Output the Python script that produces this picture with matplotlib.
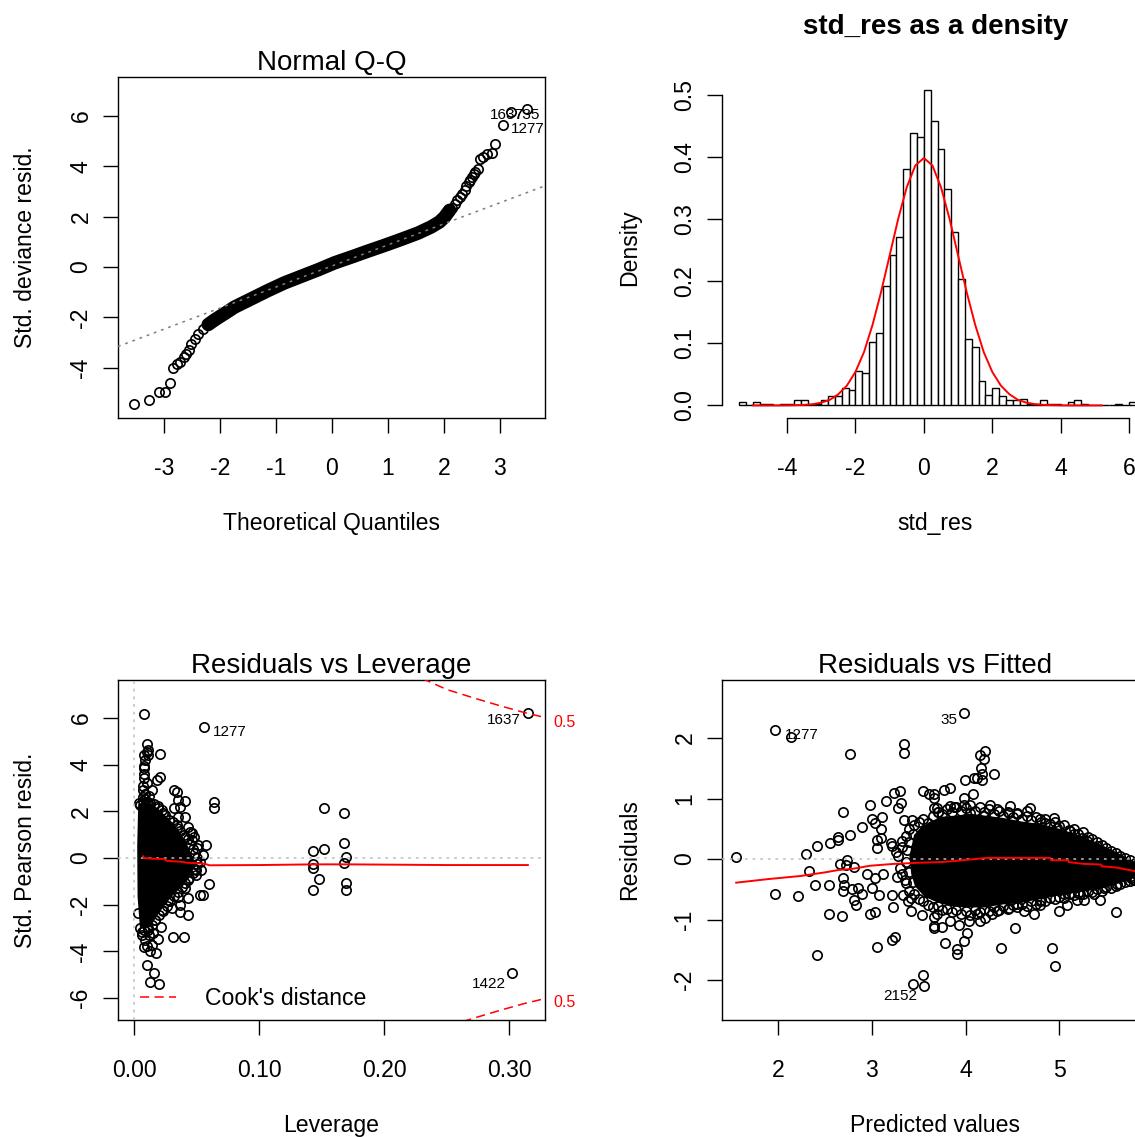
import numpy as np
import matplotlib
matplotlib.use("Agg")
import matplotlib.pyplot as plt
from matplotlib.lines import Line2D

plt.rcParams['font.family'] = ['Liberation Sans', 'DejaVu Sans']
plt.rcParams['axes.unicode_minus'] = False

W, H = 1135, 1137
PX = 0.72  # points per pixel at dpi 100

# ---------------- data ----------------
# Normal Q-Q (theoretical quantile, std. deviance residual)
qq_x = [-3.54, -3.26, -3.09, -2.99, -2.90, -2.83, -2.77, -2.71, -2.65, -2.60,
        -2.55, -2.51, -2.44, -2.39, -2.30, -2.21, -2.09, -1.92, -1.74, -1.44,
        -1.14, -0.85, -0.55, -0.25, 0.05, 0.35, 0.64, 0.94, 1.24, 1.54,
        1.77, 1.92, 2.01, 2.10, 2.15, 2.19, 2.24, 2.28, 2.33, 2.37,
        2.40, 2.44, 2.47, 2.50, 2.53, 2.56, 2.60, 2.64, 2.70, 2.76,
        2.85, 2.92, 3.05, 3.19, 3.49]
qq_y = [-5.42, -5.29, -4.96, -4.96, -4.59, -4.01, -3.86, -3.77, -3.57, -3.44,
        -3.31, -3.04, -2.84, -2.67, -2.45, -2.28, -2.09, -1.85, -1.59, -1.26,
        -0.93, -0.63, -0.37, -0.11, 0.17, 0.40, 0.63, 0.86, 1.10, 1.35,
        1.59, 1.79, 1.98, 2.25, 2.35, 2.49, 2.64, 2.78, 2.91, 3.04,
        3.20, 3.37, 3.47, 3.57, 3.68, 3.77, 3.90, 4.30, 4.36, 4.50,
        4.52, 4.87, 5.65, 6.15, 6.26]
qq_line_x = [-3.82, 3.80]
qq_line_y = [-3.15, 3.22]
qq_ids = [("1637", 3.49, 6.26, -4, -5.3, 'right'),
          ("735", 3.19, 6.15, 3.3, -2.6, 'left'),
          ("1277", 3.05, 5.65, 7.7, -3.9, 'left')]

# histogram of std_res (density per 0.2 wide bin, first bin starts at -5.4)
hist_start = -5.4
hist_width = 0.2
hist_density = [0.005, 0.0, 0.005, 0.0027, 0.0027, 0.0, 0.0027, 0.0027, 0.008, 0.008,
                0.0, 0.0027, 0.008, 0.0145, 0.0145, 0.028, 0.025, 0.055, 0.052, 0.103,
                0.116, 0.192, 0.243, 0.271, 0.381, 0.439, 0.433, 0.508, 0.459, 0.413,
                0.349, 0.280, 0.204, 0.107, 0.095, 0.040, 0.017, 0.028, 0.0145, 0.008,
                0.008, 0.011, 0.0027, 0.0027, 0.008, 0.0027, 0.0027, 0.0, 0.005, 0.008,
                0.0027, 0.0, 0.0, 0.0, 0.0, 0.0027, 0.0, 0.005]
curve_x = [-5.0, -4.75, -4.5, -4.25, -4.0, -3.75, -3.5, -3.25, -3.0, -2.75,
           -2.5, -2.25, -2.0, -1.75, -1.5, -1.25, -1.0, -0.75, -0.5, -0.25,
           0.0, 0.25, 0.5, 0.75, 1.0, 1.25, 1.5, 1.75, 2.0, 2.25,
           2.5, 2.75, 3.0, 3.25, 3.5, 3.75, 4.0, 4.25, 4.5, 4.75, 5.0, 5.2]
curve_y = [0.0, 0.0, 0.0, 0.0, 0.0001, 0.0004, 0.0009, 0.002, 0.0044, 0.009,
           0.018, 0.032, 0.054, 0.086, 0.130, 0.183, 0.242, 0.301, 0.352, 0.387,
           0.399, 0.387, 0.352, 0.301, 0.242, 0.183, 0.130, 0.086, 0.054, 0.032,
           0.018, 0.009, 0.0044, 0.002, 0.0009, 0.0004, 0.0001, 0.0, 0.0, 0.0, 0.0, 0.0]

# Residuals vs Leverage: separate points
lev_pts = [0.008, 0.0557, 0.0099, 0.0101, 0.0077, 0.0112, 0.0208, 0.008, 0.008, 0.008,
           0.0207, 0.0179, 0.007, 0.0139, 0.032, 0.0339, 0.0352, 0.0405, 0.032, 0.0365,
           0.0405, 0.0432, 0.0464, 0.0475, 0.0512, 0.057, 0.0553, 0.064, 0.064, 0.0491,
           0.0597, 0.0525, 0.0552, 0.0432, 0.0365, 0.0427, 0.0365, 0.0299, 0.0213, 0.0312,
           0.0397, 0.0187, 0.008, 0.0139, 0.0171, 0.0099, 0.016, 0.0125, 0.0197,
           0.3147, 0.3024, 0.1515, 0.1675, 0.1675, 0.1515, 0.1429, 0.169, 0.1675, 0.1429,
           0.1429, 0.1475, 0.169, 0.1429, 0.169,
           0.007, 0.009, 0.007, 0.010, 0.008, 0.009, 0.011, 0.009, 0.012,
           0.006, 0.009, 0.012, 0.015, 0.010, 0.013]
pear_pts = [6.17, 5.60, 4.88, 4.55, 4.41, 4.41, 4.48, 3.84, 3.62, 3.41,
            3.48, 3.34, 2.91, 2.91, 2.91, 2.84, 2.48, 2.44, 2.13, 2.20,
            1.77, 1.34, 1.06, 0.92, 0.56, 0.56, 0.13, 2.41, 2.16, -0.51,
            -1.11, -1.58, -1.58, -1.73, -2.01, -2.44, -2.30, -2.13, -2.94, -3.40,
            -3.40, -3.48, -3.80, -3.73, -4.05, -4.58, -4.94, -5.30, -5.41,
            6.22, -4.91, 2.16, 1.91, 0.63, 0.39, 0.31, 0.03, -0.23, -0.26,
            -0.44, -0.91, -1.06, -1.37, -1.37,
            2.60, 2.75, 3.10, 3.20, 3.95, 4.20, 4.65, 2.55, 2.65,
            -3.30, -3.50, -3.30, -3.20, -3.75, -4.00]
# points on the edge of the dense mass
lev_edge = [0.004, 0.007, 0.010, 0.013, 0.016, 0.019, 0.022, 0.025, 0.028, 0.031,
            0.034, 0.037, 0.040, 0.043, 0.045, 0.047, 0.049, 0.050, 0.050, 0.049,
            0.047, 0.044, 0.041, 0.038, 0.035, 0.032, 0.029, 0.026, 0.023, 0.020,
            0.017, 0.014, 0.011, 0.008, 0.005,
            0.0045, 0.0112, 0.0192, 0.0232, 0.0285, 0.0352, 0.0339, 0.0405, 0.0445, 0.0459,
            0.0499, 0.0525, 0.0533, 0.0491, 0.0432, 0.0405, 0.0352, 0.0272, 0.0219, 0.0165,
            0.0112, 0.0059, 0.0032]
pear_edge = [2.35, 2.45, 2.42, 2.38, 2.30, 2.25, 2.05, 1.85, 1.65, 1.55,
             1.40, 1.15, 1.00, 0.80, 0.60, 0.40, 0.20, 0.00, -0.25, -0.45,
             -0.65, -0.85, -1.05, -1.25, -1.45, -1.62, -1.85, -2.05, -2.25, -2.45,
             -2.65, -2.85, -3.00, -3.10, -3.00,
             2.27, 2.34, 2.13, 1.91, 1.34, 1.77, 1.27, 0.91, 1.13, 0.77,
             0.41, -0.16, -0.51, -0.73, -0.94, -1.30, -1.66, -1.80, -2.23, -2.66,
             -3.08, -3.16, -2.36]
# outline of the solid black mass of overlapping points near zero leverage
lev_core = [0.0032, 0.0085, 0.0165, 0.0245, 0.0312, 0.0365, 0.0419, 0.0464, 0.0480, 0.0445,
            0.0379, 0.0312, 0.0245, 0.0187, 0.0139, 0.0085, 0.0045, 0.0027, 0.0024]
pear_core = [2.31, 2.41, 2.23, 1.84, 1.49, 1.13, 0.63, 0.06, -0.37, -0.83,
             -1.23, -1.58, -2.01, -2.44, -2.87, -3.05, -2.94, -1.66, 0.49]
lev_smooth = [0.0072, 0.0080, 0.0150, 0.0240, 0.0260, 0.0380, 0.0420, 0.0560, 0.0600, 0.1000,
              0.1450, 0.1700, 0.2500, 0.3147]
pear_smooth = [0.07, 0.00, -0.03, -0.04, -0.12, -0.16, -0.20, -0.24, -0.31, -0.30,
               -0.27, -0.27, -0.30, -0.30]
cook_lev = [0.2300, 0.2500, 0.2715, 0.2928, 0.3115, 0.3300]
cook_hi = [7.70, 7.22, 6.86, 6.52, 6.24, 6.00]
cook_lo = [-7.70, -7.22, -6.86, -6.52, -6.24, -6.00]
lev_ids = [("1277", 0.0557, 5.60, 9.3, -4.3, 'left'),
           ("1637", 0.3147, 6.22, -7, -7.2, 'right'),
           ("1422", 0.3024, -4.91, -7, -11.6, 'right')]

# Residuals vs Fitted: separate points
fit_pts = [1.549, 1.968, 2.135, 2.768, 3.341, 3.341, 1.968, 2.217, 2.299, 2.413,
           2.333, 2.397, 2.413, 2.544, 2.555, 2.64, 2.64, 2.697, 2.77, 2.66,
           2.73, 2.726, 2.815, 2.697, 2.704, 2.690, 2.786, 2.857, 2.815, 2.832,
           2.893, 2.544, 2.679, 2.893, 2.982, 3.006, 3.034, 3.104, 3.146, 3.235,
           3.30, 3.28, 3.31, 3.10, 3.05, 3.05, 3.10, 3.20, 3.21, 3.34,
           3.43, 2.95, 3.03, 3.12, 3.00, 3.08, 2.98, 3.03, 3.23, 3.21,
           3.33, 3.42, 3.39, 3.06, 3.22, 3.25, 3.54, 3.44, 3.56, 3.53,
           3.66, 3.66, 3.42, 3.55, 3.61, 3.66, 3.66, 3.70,
           3.978, 4.156, 4.209, 4.191, 4.163, 4.173, 4.12, 4.084, 3.995, 4.305,
           4.077, 4.173, 3.658, 3.764, 3.828, 3.978, 3.871, 3.978, 4.262, 4.333,
           4.476, 4.654, 4.689, 4.458, 4.938, 4.974, 5.152, 5.241, 5.401, 5.49,
           5.65, 5.757, 4.992, 5.081, 5.187, 5.265, 5.365, 5.436, 5.603, 4.529,
           4.376, 4.92, 4.949, 3.782, 3.907, 3.907, 3.978, 4.013, 3.658, 3.746,
           3.924, 4.031, 4.156, 4.209, 4.28, 4.458, 4.618, 4.725, 4.796,
           3.693, 3.835, 4.049, 4.191, 4.547, 4.796, 4.849, 5.116, 5.294, 5.507,
           5.685, 3.693, 3.835, 4.12, 4.333, 4.547, 4.796, 5.045, 5.223, 5.472,
           5.614, 5.757, 5.79, 5.90, 5.93,
           3.28, 3.30, 3.32, 3.35, 3.38, 3.36, 3.40, 3.40, 3.44, 3.44, 3.26, 3.27]
res_pts = [0.04, 2.14, 2.02, 1.73, 1.91, 1.75, -0.58, -0.61, 0.09, 0.21,
           -0.20, -0.43, -1.59, -0.43, 0.27, 0.32, 0.36, 0.78, 0.39, -0.08,
           -0.01, -0.09, -0.13, -0.31, -0.43, -0.52, -0.50, -0.47, -0.68, -0.76,
           -0.58, -0.91, -0.94, 0.53, 0.89, 0.67, 0.60, 0.70, 0.96, 1.10,
           1.12, 0.84, 0.92, 0.49, 0.32, 0.19, 0.35, 0.27, 0.21, 0.64,
           0.64, -0.25, -0.31, -0.24, -0.47, -0.59, -0.91, -0.88, -0.79, -0.59,
           -0.59, -0.64, -0.69, -1.45, -1.33, -1.29, -1.91, -2.07, -2.09, -0.93,
           -0.96, -1.10, -0.86, 1.13, 1.07, 1.01, 0.85, 0.77,
           2.408, 1.719, 1.785, 1.647, 1.499, 1.399, 1.344, 1.344, 1.30, 1.399,
           1.069, 1.306, 1.069, 1.135, 1.168, 1.014, 0.86, 0.893, 0.893, 0.832,
           0.876, 0.793, 0.849, 0.766, 0.672, 0.518, 0.419, 0.353, 0.215, 0.105,
           -0.033, -0.281, -0.86, -0.76, -0.684, -0.678, -0.584, -0.684, -0.87, -1.146,
           -1.466, -1.466, -1.769, -1.383, -1.493, -1.565, -1.356, -1.229, -1.135, -1.124,
           -1.091, -1.025, -1.025, -0.981, -0.915, -0.804, -0.86, -0.915, -0.76,
           0.848, 0.876, 0.766, 0.711, 0.738, 0.656, 0.60, 0.463, 0.297, 0.077,
           -0.143, -0.915, -1.025, -0.915, -0.86, -0.75, -0.694, -0.584, -0.584, -0.474,
           -0.419, -0.309, -0.34, -0.15, -0.25,
           0.05, -0.15, 0.30, -0.35, 0.15, -0.05, 0.28, -0.22, 0.42, -0.38, 0.12, -0.30]
# points on the upper and lower edge of the dense mass
fit_edge = [3.32, 3.36, 3.40, 3.45, 3.50, 3.55, 3.60, 3.65, 3.70, 3.75,
            3.80, 3.85, 3.90, 3.95, 4.00, 4.05, 4.10, 4.15, 4.20, 4.25,
            4.30, 4.35, 4.40, 4.45, 4.50, 4.55, 4.60, 4.65, 4.70, 4.75,
            4.80, 4.85, 4.90, 4.95, 5.00, 5.05, 5.10, 5.15, 5.20, 5.25,
            5.30, 5.35, 5.40, 5.45, 5.50, 5.55, 5.60, 5.65, 5.70, 5.75,
            5.80, 5.85, 5.90,
            3.32, 3.36, 3.40, 3.45, 3.50, 3.55, 3.60, 3.65, 3.70, 3.75,
            3.80, 3.85, 3.90, 3.95, 4.00, 4.05, 4.10, 4.15, 4.20, 4.25,
            4.30, 4.35, 4.40, 4.45, 4.50, 4.55, 4.60, 4.65, 4.70, 4.75,
            4.80, 4.85, 4.90, 4.95, 5.00, 5.05, 5.10, 5.15, 5.20, 5.25,
            5.30, 5.35, 5.40, 5.45, 5.50, 5.55, 5.60, 5.65, 5.70, 5.75,
            5.80, 5.85, 5.90]
res_edge = [0.20, 0.38, 0.50, 0.56, 0.62, 0.66, 0.60, 0.72, 0.78, 0.74,
            0.82, 0.78, 0.86, 0.80, 0.84, 0.90, 0.80, 0.86, 0.78, 0.82,
            0.74, 0.80, 0.72, 0.78, 0.70, 0.76, 0.66, 0.72, 0.64, 0.70,
            0.62, 0.66, 0.58, 0.62, 0.54, 0.56, 0.48, 0.50, 0.42, 0.44,
            0.36, 0.34, 0.28, 0.24, 0.18, 0.14, 0.10, 0.05, 0.02, -0.02,
            -0.06, -0.10, -0.14,
            -0.25, -0.40, -0.52, -0.58, -0.66, -0.70, -0.76, -0.80, -0.78, -0.85,
            -0.82, -0.88, -0.84, -0.90, -0.86, -0.92, -0.84, -0.88, -0.82, -0.86,
            -0.80, -0.84, -0.78, -0.82, -0.76, -0.80, -0.74, -0.78, -0.70, -0.74,
            -0.68, -0.70, -0.64, -0.66, -0.62, -0.64, -0.58, -0.60, -0.56, -0.58,
            -0.52, -0.54, -0.50, -0.52, -0.46, -0.48, -0.44, -0.42, -0.38, -0.36,
            -0.34, -0.30, -0.28]
fit_core = [3.40, 3.45, 3.52, 3.62, 3.75, 3.90, 4.05, 4.20, 4.40, 4.60,
            4.80, 5.00, 5.20, 5.40, 5.60, 5.75, 5.90,
            5.90, 5.75, 5.60, 5.40, 5.20, 5.00, 4.80, 4.60, 4.40, 4.20,
            4.00, 3.85, 3.70, 3.56, 3.46, 3.42]
res_core = [0.05, 0.40, 0.52, 0.62, 0.70, 0.72, 0.75, 0.72, 0.68, 0.62,
            0.58, 0.50, 0.40, 0.27, 0.12, 0.00, -0.12,
            -0.28, -0.33, -0.42, -0.50, -0.55, -0.60, -0.66, -0.72, -0.75, -0.80,
            -0.80, -0.78, -0.72, -0.62, -0.45, -0.25]
fit_smooth = [1.554, 1.90, 2.238, 2.50, 2.647, 2.80, 2.982, 3.231, 3.515, 3.728,
              3.90, 4.227, 4.90, 4.91, 5.09, 5.10, 5.26, 5.44, 5.45, 5.61, 5.77, 5.85]
res_smooth = [-0.39, -0.33, -0.28, -0.22, -0.18, -0.16, -0.11, -0.08, -0.06, -0.05,
              -0.03, 0.02, 0.02, -0.02, -0.02, -0.05, -0.08, -0.09, -0.12, -0.14, -0.19, -0.21]
fit_ids = [("1277", 1.968, 2.14, 10, -5.1, 'left'),
           ("35", 3.978, 2.408, -6.3, -7, 'right'),
           ("2152", 3.56, -2.09, -7, -10.6, 'right')]

# ---------------- styling ----------------
LBL = 16.6
TTL = 20
IDS = 11
MS = 9.3 * PX
MEW = 1.7 * PX
DOT = (0, (1.8, 3.2))


def rect(left, top, w, h):
    return [left / W, 1 - (top + h) / H, w / W, h / H]


def dress(ax, xticks, xlabels, yticks, ylabels, xlab, ylab, title, bold=False,
          title_base=70, h=341):
    ax.set_xticks(xticks, xlabels)
    ax.set_yticks(yticks, ylabels)
    ax.tick_params(direction='out', length=15 * PX, width=1.0, labelsize=LBL)
    ax.tick_params(axis='x', pad=24 * PX)
    ax.tick_params(axis='y', pad=10.6 * PX)
    plt.setp(ax.get_yticklabels(), rotation=90, va='center')
    for s in ax.spines.values():
        s.set_linewidth(1.0)
    ax.set_xlabel(xlab, fontsize=LBL, va='baseline')
    ax.xaxis.set_label_coords(0.5, -112 / h)
    ax.set_ylabel(ylab, fontsize=LBL, va='baseline')
    ax.yaxis.set_label_coords(-86 / 427, 0.5)
    ax.set_title(title, fontsize=TTL, fontweight='bold' if bold else 'normal',
                 y=1 + (77 - title_base) / h if not bold else (418 - title_base) / h,
                 pad=0, va='baseline')


def rings(ax, x, y):
    ax.plot(x, y, 'o', mfc='none', mec='black', ms=MS, mew=MEW, zorder=3)


def ids(ax, items):
    for txt, x, y, dx, dy, ha in items:
        ax.annotate(txt, (x, y), xytext=(dx * PX, dy * PX), textcoords='offset points',
                    ha=ha, va='center', fontsize=IDS, annotation_clip=False)


fig = plt.figure(figsize=(W / 100, H / 100), dpi=100)

# ---- Normal Q-Q ----
ax1 = fig.add_axes(rect(118, 77, 427, 341))
qx = np.array(qq_x)
qy = np.array(qq_y)
band = (qx >= -2.21) & (qx <= 2.10)
ax1.plot(qx[band], qy[band], color='black', lw=13.5 * PX, solid_capstyle='round',
         solid_joinstyle='round', zorder=2)
rings(ax1, qx, qy)
ax1.plot(qq_line_x, qq_line_y, color='#7f7f7f', lw=1.1, ls=DOT, zorder=4)
ids(ax1, qq_ids)
ax1.set_xlim(-3.821, 3.804)
ax1.set_ylim(-5.99, 7.54)
dress(ax1, [-3, -2, -1, 0, 1, 2, 3], ['-3', '-2', '-1', '0', '1', '2', '3'],
      [-4, -2, 0, 2, 4, 6], ['-4', '-2', '0', '2', '4', '6'],
      'Theoretical Quantiles', 'Std. deviance resid.', 'Normal Q-Q')

# ---- histogram ----
ax2 = fig.add_axes(rect(722, 77, 427, 341))
lefts = [hist_start + hist_width * i for i in range(len(hist_density))]
ax2.bar(lefts, hist_density, width=hist_width, align='edge', facecolor='white',
        edgecolor='black', linewidth=1.0)
ax2.plot(curve_x, curve_y, color='red', lw=1.4)
ax2.set_xlim(-5.90, 6.58)
ax2.set_ylim(-0.0203, 0.5297)
dress(ax2, [-4, -2, 0, 2, 4, 6], ['-4', '-2', '0', '2', '4', '6'],
      [0, 0.1, 0.2, 0.3, 0.4, 0.5], ['0.0', '0.1', '0.2', '0.3', '0.4', '0.5'],
      'std_res', 'Density', 'std_res as a density', bold=True, title_base=34)
ax2.spines['top'].set_visible(False)
ax2.spines['right'].set_visible(False)
ax2.spines['left'].set_bounds(0, 0.5)
ax2.spines['bottom'].set_bounds(-4, 6)

# ---- Residuals vs Leverage ----
ax3 = fig.add_axes(rect(118, 680, 427, 340))
ax3.fill(lev_core, pear_core, color='black', lw=0, zorder=2)
rings(ax3, lev_pts, pear_pts)
rings(ax3, lev_edge, pear_edge)
ax3.axhline(0, color='#bebebe', lw=1.1, ls=DOT, zorder=4)
ax3.axvline(0, color='#bebebe', lw=1.1, ls=DOT, zorder=4)
ax3.plot(lev_smooth, pear_smooth, color='red', lw=1.4, zorder=5)
cook_style = dict(color='red', lw=1.1, ls=(0, (6, 3.5)), zorder=5)
ax3.plot(cook_lev, cook_hi, **cook_style)
ax3.plot(cook_lev, cook_lo, **cook_style)
tr = ax3.get_yaxis_transform()
ax3.text(1 + 8 / 427, 5.83, '0.5', color='red', fontsize=11.5, ha='left', va='center',
         transform=tr, clip_on=False)
ax3.text(1 + 8 / 427, -6.21, '0.5', color='red', fontsize=11.5, ha='left', va='center',
         transform=tr, clip_on=False)
ids(ax3, lev_ids)
ax3.legend(handles=[Line2D([], [], **cook_style)], labels=["Cook's distance"],
           loc='lower left', bbox_to_anchor=(22 / 427, 10 / 340), frameon=False,
           fontsize=LBL, handlelength=36 / 23, handletextpad=29 / 23,
           borderpad=0, borderaxespad=0)
ax3.set_xlim(-0.01295, 0.3284)
ax3.set_ylim(-6.94, 7.63)
dress(ax3, [0, 0.1, 0.2, 0.3], ['0.00', '0.10', '0.20', '0.30'],
      [-6, -4, -2, 0, 2, 4, 6], ['-6', '-4', '-2', '0', '2', '4', '6'],
      'Leverage', 'Std. Pearson resid.', 'Residuals vs Leverage', h=340)

# ---- Residuals vs Fitted ----
ax4 = fig.add_axes(rect(722, 680, 427, 340))
ax4.fill(fit_core, res_core, color='black', lw=0, zorder=2)
rings(ax4, fit_pts, res_pts)
rings(ax4, fit_edge, res_edge)
ax4.axhline(0, color='#bebebe', lw=1.1, ls=DOT, zorder=4)
ax4.plot(fit_smooth, res_smooth, color='red', lw=1.4, zorder=5)
ids(ax4, fit_ids)
ax4.set_xlim(1.403, 5.954)
ax4.set_ylim(-2.66, 2.96)
dress(ax4, [2, 3, 4, 5], ['2', '3', '4', '5'],
      [-2, -1, 0, 1, 2], ['-2', '-1', '0', '1', '2'],
      'Predicted values', 'Residuals', 'Residuals vs Fitted', h=340)

fig.savefig('out.png', dpi=100)
